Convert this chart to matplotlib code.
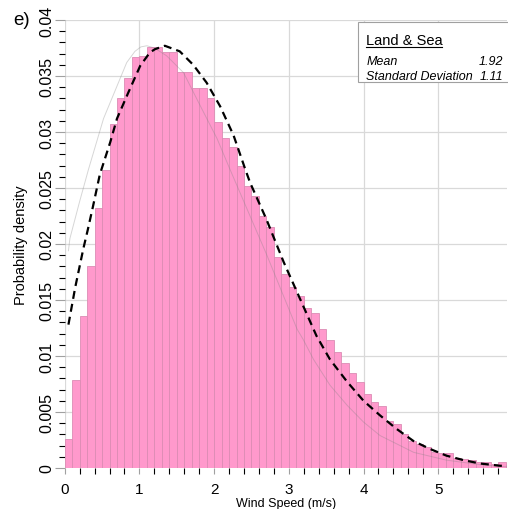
import numpy as np
import matplotlib
matplotlib.use('Agg')
import matplotlib.pyplot as plt
from matplotlib.patches import Rectangle

plt.rcParams['font.family'] = ['Liberation Sans', 'DejaVu Sans']
plt.rcParams['axes.unicode_minus'] = False

# histogram: left edges of 0.1 m/s bins and probability per bin
bin_left = np.round(np.arange(0, 5.9, 0.1), 1)
bin_width = 0.1
bin_prob = [0.0026, 0.0079, 0.0136, 0.0180, 0.0232, 0.0266, 0.0307, 0.0330, 0.0348, 0.0367,
            0.0368, 0.0376, 0.0376, 0.0371, 0.0371, 0.0354, 0.0354, 0.0339, 0.0339, 0.0330,
            0.0309, 0.0295, 0.0287, 0.0270, 0.0252, 0.0243, 0.0225, 0.0215, 0.0188, 0.0173,
            0.0162, 0.0154, 0.0143, 0.0138, 0.0124, 0.0114, 0.0104, 0.0094, 0.0085, 0.0077,
            0.0066, 0.0059, 0.0055, 0.0042, 0.0039, 0.0030, 0.0024, 0.0021, 0.0019, 0.0014,
            0.0013, 0.0013, 0.0009, 0.0008, 0.0007, 0.0005, 0.0005, 0.0004, 0.0005]

# fitted curve (dashed)
fit_x = [0.05, 0.14, 0.25, 0.31, 0.38, 0.47, 0.61, 0.70, 0.85, 1.01, 1.14, 1.21, 1.34,
         1.54, 1.72, 1.90, 2.08, 2.26, 2.41, 2.48, 2.70, 2.93, 3.15, 3.37, 3.55, 3.78,
         4.00, 4.22, 4.44, 4.67, 4.89, 5.11, 5.34, 5.56, 5.83, 5.92]
fit_y = [0.0128, 0.0161, 0.0196, 0.0213, 0.0234, 0.0262, 0.0291, 0.0312, 0.0335, 0.0359,
         0.0371, 0.0374, 0.0377, 0.0372, 0.0360, 0.0344, 0.0323, 0.0297, 0.0268, 0.0255,
         0.0222, 0.0184, 0.0151, 0.0118, 0.0097, 0.0077, 0.0060, 0.0047, 0.0035, 0.0024,
         0.0017, 0.0011, 0.0007, 0.0004, 0.0002, 0.0002]

# second reference curve (thin grey)
ref_x = [0.05, 0.07, 0.20, 0.32, 0.52, 0.70, 0.83, 0.94, 1.02, 1.10, 1.20, 1.365, 1.59,
         1.81, 2.04, 2.21, 2.70, 3.11, 3.19, 3.33, 3.55, 3.78, 4.00, 4.22, 4.67, 5.11,
         5.56, 5.92]
ref_y = [0.0194, 0.0205, 0.0238, 0.0267, 0.0312, 0.0341, 0.0362, 0.0372, 0.0376, 0.0377,
         0.0375, 0.0368, 0.0353, 0.0324, 0.0294, 0.0267, 0.0191, 0.0124, 0.0115, 0.0097,
         0.0074, 0.0056, 0.0041, 0.0029, 0.0014, 0.0007, 0.0003, 0.0001]

fig = plt.figure(figsize=(5.08, 5.10), dpi=100)
ax = fig.add_axes([64.7 / 508, 41 / 510, 442.3 / 508, 448 / 510])

ax.bar(bin_left, bin_prob, width=bin_width, align='edge', color='#ff99cc',
       edgecolor='#dc8cb4', linewidth=0.6, zorder=2)
ax.plot(ref_x, ref_y, color='#808080', alpha=0.32, lw=0.7, zorder=3)
ax.plot(fit_x, fit_y, color='black', lw=1.6, dashes=(3.6, 2.3), zorder=4)

ax.set_xlim(0, 5.92)
ax.set_ylim(0, 0.04)
ax.set_xticks(range(0, 6))
ax.set_xticks(np.arange(0, 5.95, 0.2), minor=True)
ax.set_yticks(np.arange(0, 0.0401, 0.005))
ax.set_yticks(np.arange(0, 0.0401, 0.001), minor=True)
ax.set_yticklabels(['0', '0.005', '0.01', '0.015', '0.02', '0.025', '0.03', '0.035', '0.04'],
                   rotation=90, va='center')
ax.tick_params(axis='both', colors='#a0a0a0', labelcolor='black')
ax.tick_params(axis='y', which='major', length=7, width=0.8, pad=0.5, labelsize=11.5)
ax.tick_params(axis='y', which='minor', length=4, width=0.8)
ax.tick_params(axis='x', which='both', length=4, width=0.8, pad=6, labelsize=11)

for s in ax.spines.values():
    s.set_visible(False)
ax.grid(True, which='major', color='#d9d9d9', lw=0.9, zorder=0)
ax.set_axisbelow(True)

ax.set_xlabel('Wind Speed (m/s)', fontsize=9, labelpad=1)
ax.set_ylabel('Probability density', fontsize=10.5, labelpad=8)
fig.text(13 / 508, 1 - 25 / 510, 'e)', fontsize=13.5)

# statistics box
ax.add_patch(Rectangle((0.664, 0.861), 0.34, 0.134, transform=ax.transAxes,
                       facecolor='white', edgecolor='#a0a0a0', lw=0.8, zorder=5,
                       clip_on=False))
ax.text(0.681, 0.946, 'Land & Sea', transform=ax.transAxes, fontsize=10.5, zorder=6)
ax.plot([0.681, 0.852], [0.94, 0.94], transform=ax.transAxes, color='black', lw=0.8,
        zorder=6, clip_on=False)
ax.text(0.682, 0.902, 'Mean', transform=ax.transAxes, fontsize=9, style='italic', zorder=6)
ax.text(0.991, 0.902, '1.92', transform=ax.transAxes, fontsize=9, style='italic',
        ha='right', zorder=6)
ax.text(0.682, 0.868, 'Standard Deviation', transform=ax.transAxes, fontsize=9,
        style='italic', zorder=6)
ax.text(0.991, 0.868, '1.11', transform=ax.transAxes, fontsize=9, style='italic',
        ha='right', zorder=6)

fig.savefig('out.png', dpi=100)
